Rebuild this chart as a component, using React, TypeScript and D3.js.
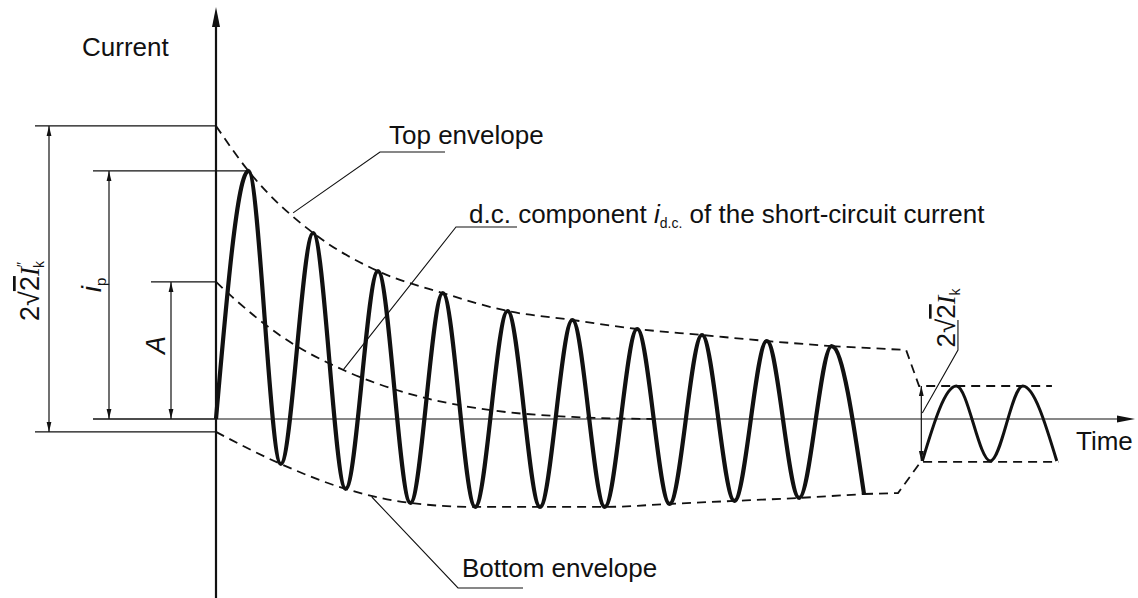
import React from "react";
import * as d3 from "d3";

// time in ms (50 Hz), current in arbitrary units
const peakTimes = [10, 30, 50, 70, 90, 110, 130, 150, 170, 190];
const peakValues = [82.7, 62, 49.3, 42, 36, 33, 30, 28, 26, 24.3];
const troughTimes = [20, 40, 60, 80, 100, 120, 140, 160, 180, 200];
const troughValues = [-15, -23.3, -28, -29.3, -29.3, -29.3, -28.3, -27.3, -26.3, -25];

// steady-state part after the break
const steadyTimes = [218, 228.5, 239, 249, 259.5];
const steadyValues = [-14, 11, -14, 11, -14];

const topStart = 97.7;
const bottomStart = -4.3;
const topTailTimes = [190, 213, 217, 258];
const topTailValues = [24.3, 23, 11, 11];
const bottomTailTimes = [200, 210.5, 217.5, 260];
const bottomTailValues = [-25, -24.7, -14.3, -14.3];

const dcTimes = [0, 5, 20, 40, 60, 80, 110, 135];
const dcValues = [45.7, 40.7, 27.7, 16, 8.3, 3.7, 0.7, 0];

// leader anchor points on the curves [time, value]
const topLeaderAt = [23.8, 68.7];
const dcLeaderAt = [39.2, 16.3];
const bottomLeaderAt = [48.1, -26];
const steadyLeaderAt = [218, 2];
const steadyLeaderKnee = [229, 23];
const steadyLeaderEnd = [229, 33];

const W = 1138;
const H = 598;
const FONT = "'Liberation Sans', Arial, sans-serif";
const SERIF = "'Liberation Serif', 'Times New Roman', serif";
const INK = "#111";

const zip = (ts: number[], vs: number[]) => ts.map((t, i) => [t, vs[i]] as [number, number]);

export default function App() {
  const x = d3.scaleLinear().domain([0, 200]).range([216, 864]);
  const y = d3.scaleLinear().domain([0, 100]).range([419, 119]);

  const smooth = d3
    .line<[number, number]>()
    .x((d) => x(d[0]))
    .y((d) => y(d[1]))
    .curve(d3.curveMonotoneX);
  const straight = d3
    .line<[number, number]>()
    .x((d) => x(d[0]))
    .y((d) => y(d[1]));

  const extrema: [number, number][] = [[0, 0]];
  peakTimes.forEach((t, i) => {
    extrema.push([t, peakValues[i]]);
    extrema.push([troughTimes[i], troughValues[i]]);
  });

  const topEnv: [number, number][] = [[0, topStart], ...zip(peakTimes, peakValues)];
  const bottomEnv: [number, number][] = [[0, bottomStart], ...zip(troughTimes, troughValues)];

  const x0 = x(0);
  const y0 = y(0);
  const dash = "9,6";

  const pt = (p: number[]) => `${x(p[0])},${y(p[1])}`;

  return (
    <svg
      width={W}
      height={H}
      style={{ position: "absolute", left: 0, top: 0, background: "#fff" }}
      fontFamily={FONT}
    >
      <defs>
        <marker id="dim" viewBox="0 0 10 6" refX="10" refY="3" markerWidth="10" markerHeight="6"
          markerUnits="userSpaceOnUse" orient="auto-start-reverse">
          <path d="M0,0.6 L10,3 L0,5.4 Z" fill={INK} />
        </marker>
      </defs>

      {/* axes */}
      <line x1={x0} y1={20} x2={x0} y2={H} stroke={INK} strokeWidth={2.2} />
      <path d={`M${x0},7 L${x0 - 4},27 L${x0 + 4},27 Z`} fill={INK} />
      <line x1={x0} y1={y0} x2={1122} y2={y0} stroke={INK} strokeWidth={1.2} />
      <path d={`M1135,${y0} L1117,${y0 - 3.5} L1117,${y0 + 3.5} Z`} fill={INK} />

      {/* extension lines on the left */}
      <g stroke={INK} strokeWidth={1.3}>
        <line x1={35} y1={y(topStart)} x2={x0} y2={y(topStart)} />
        <line x1={35} y1={y(bottomStart)} x2={x0} y2={y(bottomStart)} />
        <line x1={93} y1={y(peakValues[0])} x2={x(peakTimes[0])} y2={y(peakValues[0])} />
        <line x1={93} y1={y0} x2={x0} y2={y0} />
        <line x1={151} y1={y(dcValues[0])} x2={x0} y2={y(dcValues[0])} />
      </g>

      {/* dimension lines */}
      <g stroke={INK} strokeWidth={1.2}>
        <line x1={49} y1={y(topStart)} x2={49} y2={y(bottomStart)} markerStart="url(#dim)" markerEnd="url(#dim)" />
        <line x1={109} y1={y(peakValues[0])} x2={109} y2={y0} markerStart="url(#dim)" markerEnd="url(#dim)" />
        <line x1={171} y1={y(dcValues[0])} x2={171} y2={y0} markerStart="url(#dim)" markerEnd="url(#dim)" />
        <line x1={x(steadyTimes[0]) - 1} y1={y(steadyValues[1])} x2={x(steadyTimes[0]) - 1} y2={y(steadyValues[0])}
          markerStart="url(#dim)" markerEnd="url(#dim)" />
      </g>

      {/* envelopes and d.c. component */}
      <g fill="none" stroke={INK} strokeWidth={1.8} strokeDasharray={dash}>
        <path d={smooth(topEnv) ?? ""} />
        <path d={straight(zip(topTailTimes, topTailValues)) ?? ""} />
        <path d={smooth(bottomEnv) ?? ""} />
        <path d={straight(zip(bottomTailTimes, bottomTailValues)) ?? ""} />
        <path d={smooth(zip(dcTimes, dcValues)) ?? ""} />
      </g>

      {/* current waveforms */}
      <path d={smooth(extrema) ?? ""} fill="none" stroke={INK} strokeWidth={4.2} strokeLinejoin="round" />
      <path d={smooth(zip(steadyTimes, steadyValues)) ?? ""} fill="none" stroke={INK} strokeWidth={3} />

      {/* leader lines */}
      <g fill="none" stroke={INK} strokeWidth={1.1}>
        <polyline points={`445,152 380,152 ${pt(topLeaderAt)}`} />
        <polyline points={`517,227 456,227 ${pt(dcLeaderAt)}`} />
        <polyline points={`523,588 458,588 ${pt(bottomLeaderAt)}`} />
        <polyline points={`${pt(steadyLeaderAt)} ${pt(steadyLeaderKnee)} ${pt(steadyLeaderEnd)}`} />
      </g>

      {/* labels */}
      <g fontSize={26} fill={INK}>
        <text x={82} y={56}>Current</text>
        <text x={389} y={144}>Top envelope</text>
        <text x={469} y={223}>
          d.c. component <tspan fontStyle="italic">i</tspan>
          <tspan fontSize={14} dy={5}>d.c.</tspan>
          <tspan dy={-5}> of the short-circuit current</tspan>
        </text>
        <text x={462} y={577}>Bottom envelope</text>
        <text x={1076} y={450}>Time</text>
      </g>

      {/* rotated dimension labels */}
      <text transform="translate(39,291) rotate(-90)" textAnchor="middle" fontSize={27} fill={INK}>
        2√<tspan style={{ textDecoration: "overline" }}>2</tspan>
        <tspan fontFamily={SERIF} fontStyle="italic">I</tspan>
        <tspan fontSize={14} dy={-12}>″</tspan>
        <tspan fontSize={14} dy={17} dx={-6}>k</tspan>
      </text>
      <text transform="translate(101,285) rotate(-90)" textAnchor="middle" fontSize={28} fill={INK}>
        <tspan fontStyle="italic">i</tspan>
        <tspan fontSize={15} dy={5}>p</tspan>
      </text>
      <text transform="translate(165,345) rotate(-90)" textAnchor="middle" fontSize={27} fontStyle="italic" fill={INK}>
        A
      </text>
      <text transform={`translate(955,318) rotate(-90)`} textAnchor="middle" fontSize={26} fill={INK}>
        2√<tspan style={{ textDecoration: "overline" }}>2</tspan>
        <tspan fontFamily={SERIF} fontStyle="italic">I</tspan>
        <tspan fontSize={14} dy={5}>k</tspan>
      </text>
    </svg>
  );
}
